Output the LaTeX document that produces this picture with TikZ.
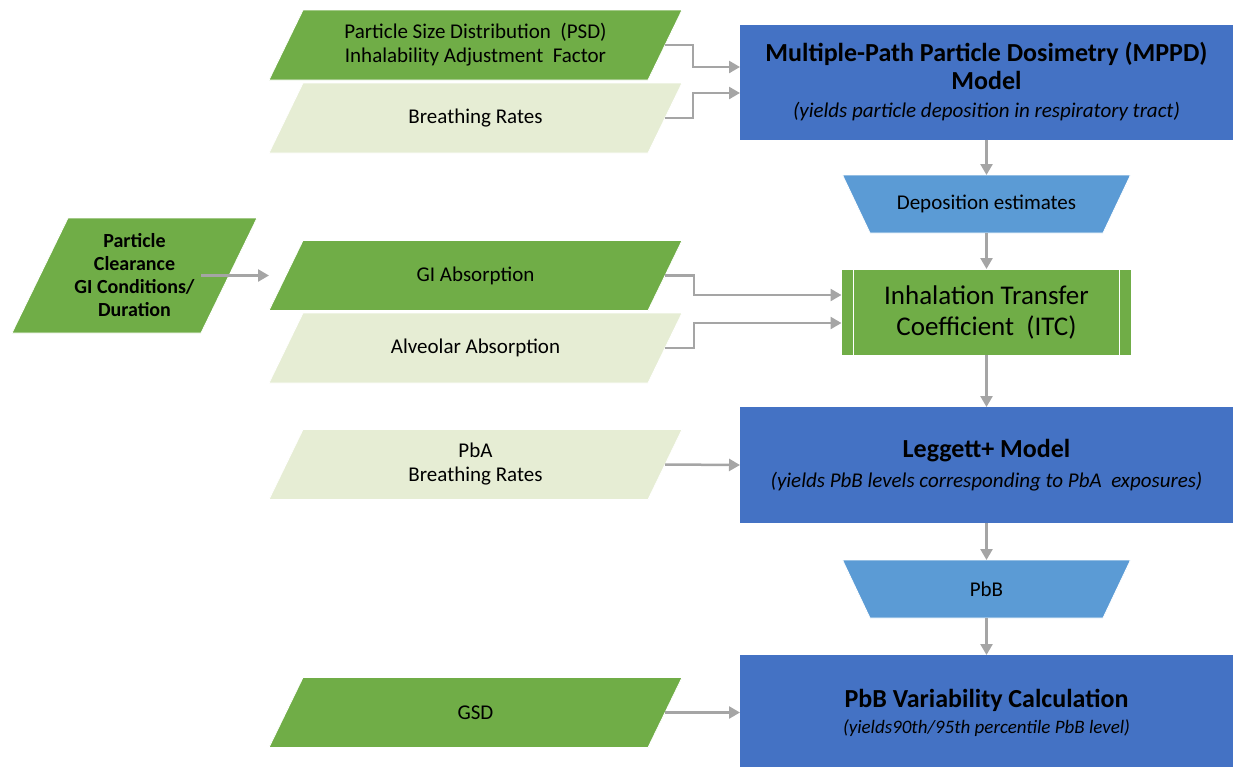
\documentclass[tikz,border=0pt]{standalone}
\usepackage{fontspec}
\setmainfont{Carlito}
\usetikzlibrary{arrows.meta,backgrounds}
\definecolor{dgreen}{HTML}{70AD47}
\definecolor{lgreen}{HTML}{E6EDD4}
\definecolor{mblue}{HTML}{4472C4}
\definecolor{sblue}{HTML}{5B9BD5}
\definecolor{conncol}{HTML}{A5A5A5}
\newcommand\paraback[3]{% node, fill colour, half slant
  \begin{pgfonlayer}{background}
  \fill[#2, draw=white, line width=0.8pt] ([xshift=#3]#1.north west) -- ([xshift=#3]#1.north east)
    -- ([xshift=-#3]#1.south east) -- ([xshift=-#3]#1.south west) -- cycle;
  \end{pgfonlayer}}
\newcommand\trapback[1]{%
  \begin{pgfonlayer}{background}
  \fill[sblue, draw=white, line width=0.8pt] ([xshift=-13.75pt]#1.north west) -- ([xshift=13.75pt]#1.north east)
    -- ([xshift=-13.75pt]#1.south east) -- ([xshift=13.75pt]#1.south west) -- cycle;
  \end{pgfonlayer}}
\begin{document}
\begin{tikzpicture}[x=1pt,y=-1pt,
  para/.style={rectangle, minimum height=70pt, minimum width=379pt,
    inner sep=0pt, outer sep=0pt, align=center,
    font=\fontsize{21}{24}\selectfont},
  trap/.style={rectangle, minimum height=58pt, minimum width=260.5pt,
    inner sep=0pt, outer sep=0pt, font=\fontsize{21}{24}\selectfont},
  model/.style={rectangle, fill=mblue, minimum width=493pt, minimum height=115pt,
    inner sep=0pt, outer sep=0pt, align=center},
  arr/.style={draw=conncol, line width=2.5pt, -{Triangle[length=11pt,width=12pt]}}
]
\useasboundingbox (0,0) rectangle (1236,766);

% inputs
\node[para] (psd) at (475.5,45) {Particle Size Distribution\ \ (PSD)\\Inhalability Adjustment\ \ Factor};
\paraback{psd}{dgreen}{17pt}
\node[para] (br1) at (475.5,118) {Breathing Rates};
\paraback{br1}{lgreen}{17pt}
\node[para, minimum height=115pt, minimum width=189pt,
  font=\fontsize{20}{23}\selectfont\bfseries] (clr) at (134.5,275.5) {Particle\\Clearance\\GI Conditions/\\Duration};
\paraback{clr}{dgreen}{28pt}
\node[para] (gi) at (475.5,275.5) {GI Absorption};
\paraback{gi}{dgreen}{17pt}
\node[para] (alv) at (475.5,348) {Alveolar Absorption};
\paraback{alv}{lgreen}{17pt}
\node[para] (pba) at (475.5,464.5) {PbA\\Breathing Rates};
\paraback{pba}{lgreen}{17pt}
\node[para] (gsd) at (475.5,712.5) {GSD};
\paraback{gsd}{dgreen}{17pt}

% main column
\node[model, font=\fontsize{26}{28}\selectfont] (mppd) at (986.5,82) {\bfseries Multiple-Path Particle Dosimetry (MPPD)\\
  \bfseries Model\\
  \fontsize{21}{28}\selectfont\itshape (yields particle deposition in respiratory tract)};
\node[trap] (dep) at (986.5,204) {Deposition estimates};
\trapback{dep}
\node[rectangle, fill=dgreen, draw=white, line width=0.8pt, minimum width=290pt, minimum height=86pt,
  inner sep=0pt, outer sep=0pt, align=center, font=\fontsize{27}{31}\selectfont] (itc) at (986.5,312)
  {Inhalation Transfer\\Coefficient\ \ (ITC)};
\draw[white, line width=1.2pt] ([xshift=12pt]itc.north west) -- ([xshift=12pt]itc.south west);
\draw[white, line width=1.2pt] ([xshift=-12pt]itc.north east) -- ([xshift=-12pt]itc.south east);
\node[model, minimum height=116pt, font=\fontsize{26}{30}\selectfont] (leg) at (986.5,465) {\bfseries Leggett+ Model\\
  \fontsize{21}{30}\selectfont\itshape (yields PbB levels corresponding to PbA\ \ exposures)};
\node[trap] (pbb) at (986.5,589) {PbB};
\trapback{pbb}
\node[model, font=\fontsize{26}{26}\selectfont] (var) at (986.5,712.5) {\bfseries PbB Variability Calculation\\
  \fontsize{19}{26}\selectfont\itshape (yields90th/95th percentile PbB level)};

% connectors
\draw[arr] (mppd.south) -- (dep.north);
\draw[arr] (dep.south) -- (itc.north);
\draw[arr] (itc.south) -- (leg.north);
\draw[arr] (leg.south) -- (pbb.north);
\draw[arr] (pbb.south) -- (var.north);
\draw[arr] (psd.east) -- ++(28,0) |- ([yshift=15pt]mppd.west);
\draw[arr] (br1.east) -- ++(28,0) |- ([yshift=-11pt]mppd.west);
\draw[arr] (gi.east) -- ++(29,0) |- ([yshift=17pt]itc.west);
\draw[arr] (alv.east) -- ++(29,0) |- ([yshift=-11pt]itc.west);
\draw[arr] ([xshift=-28pt]clr.east) -- ([xshift=-17pt]gi.west);
\draw[arr] (pba.east) -- (leg.west);
\draw[arr] (gsd.east) -- (var.west);
\end{tikzpicture}
\end{document}
